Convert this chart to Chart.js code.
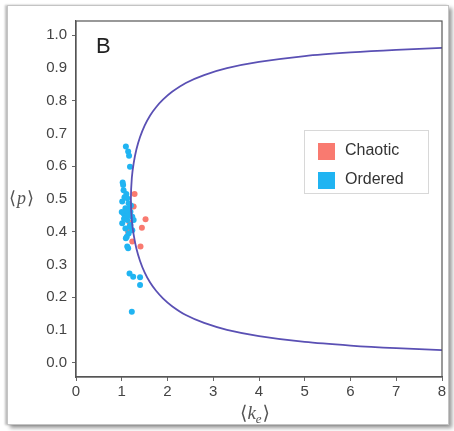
<!DOCTYPE html>
<html>
<head>
<meta charset="utf-8">
<script src="https://cdn.jsdelivr.net/npm/chart.js@4/dist/chart.umd.min.js"></script>
<style>
  html, body { margin: 0; padding: 0; background: #fff; }
  #wrap { position: relative; width: 454px; height: 431px; overflow: hidden; }
  #frame {
    position: absolute; left: 7px; top: 5px; width: 440px; height: 418px;
    border: 1px solid #c4c4c4;
    box-shadow: 3px 3px 4px rgba(0,0,0,0.4), -2px 0 2px rgba(0,0,0,0.25);
    background: #fff;
  }
  #chart { position: absolute; left: 0; top: 0; }
</style>
</head>
<body>
<div id="wrap">
  <div id="frame"></div>
  <canvas id="chart" width="454" height="431"></canvas>
</div>
<script>
// boundary curve (lower branch -> vertex -> upper branch)
const curveK = [8.0, 7.0, 6.0, 5.0, 4.0, 3.3, 2.8, 2.4, 2.1, 1.9, 1.75, 1.62, 1.5, 1.4, 1.32, 1.26, 1.22, 1.2,
                1.22, 1.26, 1.32, 1.4, 1.5, 1.62, 1.75, 1.9, 2.1, 2.4, 2.8, 3.3, 4.0, 5.0, 6.0, 7.0, 8.0];
const curveP = [0.039, 0.045, 0.053, 0.064, 0.082, 0.101, 0.122, 0.146, 0.173, 0.197, 0.220, 0.245, 0.276, 0.311, 0.349, 0.391, 0.436, 0.50,
                0.564, 0.609, 0.651, 0.689, 0.724, 0.755, 0.780, 0.803, 0.827, 0.854, 0.878, 0.899, 0.918, 0.936, 0.947, 0.955, 0.961];

// scatter points
const chaoticK = [1.28, 1.26, 1.52, 1.44, 1.17, 1.14, 1.23, 1.41];
const chaoticP = [0.515, 0.477, 0.438, 0.412, 0.428, 0.400, 0.370, 0.355];

const orderedK = [1.09, 1.14, 1.16, 1.18, 1.02, 1.03, 1.04,
                  1.12, 1.15, 1.01, 1.08, 1.19, 1.04, 1.23, 1.07, 1.12, 1.26, 1.01, 1.19, 1.08, 1.23, 1.15,
                  1.09, 1.14, 1.11, 1.12, 1.10, 1.16, 1.05, 1.13, 1.20, 1.06, 1.17, 1.10, 1.00,
                  1.17, 1.25, 1.40, 1.40, 1.22];
const orderedP = [0.660, 0.645, 0.632, 0.598, 0.550, 0.543, 0.527,
                  0.502, 0.487, 0.492, 0.472, 0.461, 0.456, 0.446, 0.446, 0.436, 0.436, 0.426, 0.421, 0.410, 0.405, 0.395,
                  0.380, 0.350, 0.385, 0.355, 0.515, 0.470, 0.440, 0.450, 0.480, 0.505, 0.415, 0.465, 0.460,
                  0.273, 0.263, 0.261, 0.238, 0.156];

const xTicks = [0, 1, 2, 3, 4, 5, 6, 7, 8];
const legendLabels = ['Chaotic', 'Ordered'];
const panelLabel = 'B';

const RED = '#f97a70';
const BLUE = '#20b4f2';
const LINE = '#5a50b4';

function toPoints(xs, ys) {
  return xs.map((x, i) => ({ x: x, y: ys[i] }));
}

// frame, labels and legend drawn on top of the chart
const decorations = {
  id: 'decorations',
  afterDraw(chart) {
    const { ctx, chartArea: a, scales } = chart;
    ctx.save();
    // plot box
    ctx.strokeStyle = '#555';
    ctx.lineWidth = 1.2;
    ctx.strokeRect(a.left, a.top, a.right - a.left, a.bottom - a.top);

    // panel letter
    ctx.fillStyle = '#222';
    ctx.font = '22px "Liberation Sans", Arial, sans-serif';
    ctx.textBaseline = 'alphabetic';
    ctx.textAlign = 'left';
    ctx.fillText(panelLabel, 96, 53);

    // y title <p>
    const yMid = scales.y.getPixelForValue(0.5);
    ctx.fillStyle = '#555';
    ctx.font = '18px "DejaVu Serif", serif';
    ctx.fillText('\u27E8', 9, yMid + 5);
    ctx.font = 'italic 18px "Liberation Serif", serif';
    ctx.fillText('p', 17, yMid + 5);
    ctx.font = '18px "DejaVu Serif", serif';
    ctx.fillText('\u27E9', 27, yMid + 5);

    // x title <k_e>
    const xb = 419;
    let x = 240;
    ctx.font = '19px "DejaVu Serif", serif';
    ctx.fillText('\u27E8', x, xb);
    x += ctx.measureText('\u27E8').width;
    ctx.font = 'italic 19px "Liberation Serif", serif';
    ctx.fillText('k', x, xb);
    x += ctx.measureText('k').width;
    ctx.font = 'italic 13px "Liberation Serif", serif';
    ctx.fillText('e', x, xb + 4);
    x += ctx.measureText('e').width + 1;
    ctx.font = '19px "DejaVu Serif", serif';
    ctx.fillText('\u27E9', x, xb);

    // legend box
    ctx.fillStyle = '#fff';
    ctx.fillRect(304, 130, 124, 63);
    ctx.strokeStyle = '#d8d8d8';
    ctx.lineWidth = 1;
    ctx.strokeRect(304.5, 130.5, 124, 63);
    const colors = [RED, BLUE];
    ctx.font = '16px "Liberation Sans", Arial, sans-serif';
    ctx.textBaseline = 'middle';
    legendLabels.forEach((lab, i) => {
      const cy = 151 + i * 29;
      ctx.fillStyle = colors[i];
      ctx.fillRect(318, cy - 8, 17, 17);
      ctx.fillStyle = '#333';
      ctx.fillText(lab, 345, cy);
    });
    ctx.restore();
  }
};

const ctx = document.getElementById('chart').getContext('2d');
new Chart(ctx, {
  type: 'scatter',
  data: {
    datasets: [
      {
        label: 'boundary',
        data: toPoints(curveK, curveP),
        showLine: true,
        borderColor: LINE,
        borderWidth: 1.8,
        pointRadius: 0,
        tension: 0.3,
        fill: false
      },
      {
        label: legendLabels[1],
        data: toPoints(orderedK, orderedP),
        backgroundColor: BLUE,
        borderWidth: 0,
        pointRadius: 3
      },
      {
        label: legendLabels[0],
        data: toPoints(chaoticK, chaoticP),
        backgroundColor: RED,
        borderWidth: 0,
        pointRadius: 3
      }
    ]
  },
  options: {
    responsive: false,
    animation: false,
    layout: { padding: { top: 21, right: 12, left: 0, bottom: 0 } },
    plugins: { legend: { display: false }, tooltip: { enabled: false } },
    scales: {
      x: {
        type: 'linear',
        min: 0,
        max: 8,
        afterFit(scale) { scale.height = 54; },
        afterBuildTicks(scale) { scale.ticks = xTicks.map(v => ({ value: v })); },
        border: { display: true, color: '#555', width: 1.2 },
        grid: { display: true, drawOnChartArea: false, tickLength: 4, color: '#666' },
        ticks: { padding: 2, color: '#444', font: { family: '"Liberation Sans", Arial, sans-serif', size: 15 } }
      },
      y: {
        type: 'linear',
        min: -0.043,
        max: 1.043,
        afterFit(scale) { scale.width = 76; },
        border: { display: true, color: '#555', width: 1.2 },
        grid: {
          display: true, drawOnChartArea: false, tickLength: 4,
          color: c => (Math.round(c.tick.value * 10) % 2 === 0 ? '#666' : 'rgba(0,0,0,0)')
        },
        ticks: {
          stepSize: 0.1,
          includeBounds: false,
          padding: 5,
          color: '#444',
          font: { family: '"Liberation Sans", Arial, sans-serif', size: 15 },
          callback: v => v.toFixed(1)
        }
      }
    }
  },
  plugins: [decorations]
});
</script>
</body>
</html>
